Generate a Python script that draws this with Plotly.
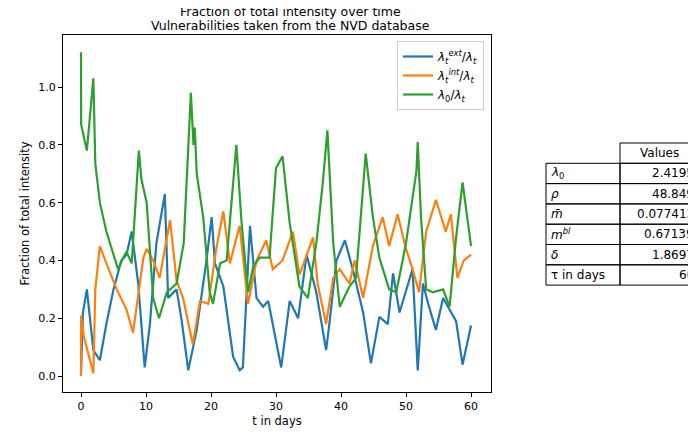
import plotly.graph_objects as go

# values
ext_t = [0, 0.3, 0.9, 1.4, 1.9, 2.9, 3.9, 5, 6.2, 7, 7.8, 8.8, 9.8, 10.6, 11.6, 12.9, 13.4,
         14.7, 15.5, 16.5, 17.8, 19.3, 20.1, 20.6, 21.9, 23.4, 24.4, 24.9, 26, 27, 28, 28.8,
         30.8, 32.1, 33.4, 34.7, 36.2, 37.7, 38.2, 39.3, 40.6, 41.8, 43.4, 44.6, 45.9, 47.2,
         48, 49, 51, 51.8, 52.6, 53.4, 54.6, 55.7, 57.7, 58.7, 60]
ext_v = [0.01, 0.22, 0.30, 0.19, 0.09, 0.055, 0.18, 0.30, 0.40, 0.42, 0.50, 0.32, 0.03, 0.18,
         0.46, 0.63, 0.27, 0.30, 0.19, 0.02, 0.16, 0.40, 0.55, 0.39, 0.31, 0.067, 0.02, 0.03,
         0.52, 0.27, 0.24, 0.26, 0.03, 0.26, 0.20, 0.42, 0.29, 0.09, 0.18, 0.40, 0.47, 0.37,
         0.22, 0.044, 0.205, 0.18, 0.355, 0.22, 0.37, 0.02, 0.32, 0.25, 0.16, 0.27, 0.19,
         0.04, 0.175]

int_t = [0, 0.02, 0.4, 1.9, 2.2, 2.9, 3.9, 5.5, 7, 8, 9.6, 10.1, 11.1, 12.1, 13.7, 14.7,
         15.7, 17.2, 18.3, 19.6, 20.8, 21.9, 22.9, 24.4, 25.7, 27, 28.5, 29.5, 31, 32.6, 33.6,
         35.7, 36.4, 37.7, 38.8, 39.8, 41.3, 42.1, 43.4, 44.9, 46.4, 47.4, 48.7, 50, 51, 52,
         53.1, 54.6, 56.1, 56.9, 57.9, 58.9, 60]
int_v = [0.0, 0.21, 0.14, 0.01, 0.30, 0.45, 0.39, 0.30, 0.23, 0.15, 0.41, 0.44, 0.40, 0.34,
         0.54, 0.33, 0.27, 0.11, 0.26, 0.25, 0.44, 0.57, 0.39, 0.52, 0.25, 0.40, 0.47, 0.37,
         0.40, 0.50, 0.35, 0.48, 0.32, 0.18, 0.34, 0.37, 0.32, 0.40, 0.27, 0.45, 0.55, 0.45,
         0.56, 0.44, 0.37, 0.29, 0.50, 0.61, 0.50, 0.56, 0.34, 0.40, 0.42]

base_t = [0, 0.02, 0.9, 1.9, 2.2, 2.9, 3.9, 5.5, 5.7, 6.5, 7, 7.8, 8.9, 9.3, 10.1, 11.1, 12,
          13.2, 14.7, 15.8, 16.9, 17.3, 17.5, 17.8, 18.8, 19.8, 20.3, 21.4, 22.4, 23.9, 24.7,
          25.7, 26.5, 27.5, 29, 30, 31, 32.1, 33.6, 34.9, 36.2, 37.2, 37.9, 38.8, 39.8, 41.3,
          42.3, 43.8, 44.9, 45.9, 47.4, 48.5, 50, 51.6, 51.8, 52.3, 53.1, 54.1, 55.7, 56.7,
          57.7, 58.7, 59.5, 60]
base_v = [1.12, 0.87, 0.78, 1.03, 0.735, 0.60, 0.50, 0.39, 0.37, 0.41, 0.43, 0.39, 0.78, 0.68,
          0.60, 0.27, 0.20, 0.29, 0.32, 0.46, 0.98, 0.80, 0.86, 0.70, 0.55, 0.29, 0.25, 0.39,
          0.40, 0.80, 0.53, 0.29, 0.38, 0.41, 0.41, 0.72, 0.76, 0.53, 0.31, 0.27, 0.46, 0.67,
          0.85, 0.46, 0.24, 0.31, 0.34, 0.77, 0.55, 0.41, 0.30, 0.29, 0.46, 0.71, 0.81, 0.55,
          0.30, 0.29, 0.30, 0.24, 0.48, 0.67, 0.53, 0.45]

title_lines = ['Fraction of total intensity over time',
               'Vulnerabilities taken from the NVD database']
param_names = ['<i>λ</i><sub>0</sub>', '<i>ρ</i>', '<i>m̄</i>', '<i>m<sup>bl</sup></i>',
               '<i>δ</i>', 'τ in days']
param_values = ['2.4195', '48.849', '0.077413', '0.67139', '1.8697', '60']

W, H = 696, 441
OFF = 8  # page body margin


def px(p):
    return (p - OFF) / W


def py(p):
    return 1 - (p - OFF) / H


def text(x, y, s, anchor='center', size=12):
    fig.add_annotation(xref='paper', yref='paper', x=x, y=y, xanchor=anchor,
                       yanchor='middle', text=s, showarrow=False, font=dict(size=size))


fig = go.Figure()
fig.add_trace(go.Scatter(x=ext_t, y=ext_v, mode='lines', line=dict(color='#1f77b4', width=2.2),
                         name='<i>λ<sub>t</sub><sup>ext</sup></i>/<i>λ<sub>t</sub></i>'))
fig.add_trace(go.Scatter(x=int_t, y=int_v, mode='lines', line=dict(color='#ff7f0e', width=2.2),
                         name='<i>λ<sub>t</sub><sup>int</sup></i>/<i>λ<sub>t</sub></i>'))
fig.add_trace(go.Scatter(x=base_t, y=base_v, mode='lines', line=dict(color='#2ca02c', width=2.2),
                         name='<i>λ</i><sub>0</sub>/<i>λ<sub>t</sub></i>'))

axis = dict(showgrid=False, zeroline=False, showline=True, mirror=True, linecolor='black',
            ticks='outside', ticklen=4, tickcolor='black', tickfont=dict(size=11))
fig.update_layout(
    width=W, height=H, plot_bgcolor='white', paper_bgcolor='white',
    margin=dict(l=0, r=0, t=0, b=0, autoexpand=False),
    font=dict(family='DejaVu Sans', size=12, color='black'),
    xaxis=dict(axis, domain=[px(63), px(491)], range=[-2.77, 63.07], dtick=10,
               title=dict(text='t in days', standoff=4, font=dict(size=11.5))),
    yaxis=dict(axis, domain=[py(392), py(35)], range=[-0.055, 1.18], dtick=0.2,
               tickformat='.1f',
               title=dict(text='Fraction of total intensity', standoff=6, font=dict(size=11.5))),
    legend=dict(x=px(484), xanchor='right', y=py(41), yanchor='top', tracegroupgap=6,
                bordercolor='#cccccc', borderwidth=1, bgcolor='white', font=dict(size=12)),
)

text(px(290), py(11), title_lines[0], size=12.5)
text(px(290), py(25), title_lines[1], size=12.5)

# parameter table drawn with shapes and text
x0, x1, x2 = 546, 620, 698
top, rh = 143, 20.3
fig.add_shape(type='rect', xref='paper', yref='paper', x0=px(x1), x1=px(x2),
              y0=py(top), y1=py(top + rh), line=dict(color='black', width=1))
text(px((x1 + x2) / 2), py(top + rh / 2), 'Values')
for i in range(len(param_names)):
    ya, yb = top + rh * (i + 1), top + rh * (i + 2)
    for a, b in ((x0, x1), (x1, x2)):
        fig.add_shape(type='rect', xref='paper', yref='paper', x0=px(a), x1=px(b),
                      y0=py(ya), y1=py(yb), line=dict(color='black', width=1))
    text(px(x0 + 3), py((ya + yb) / 2), param_names[i], anchor='left')
    text(px(x2 - 2), py((ya + yb) / 2), param_values[i], anchor='right')

fig.write_html('out.html')
